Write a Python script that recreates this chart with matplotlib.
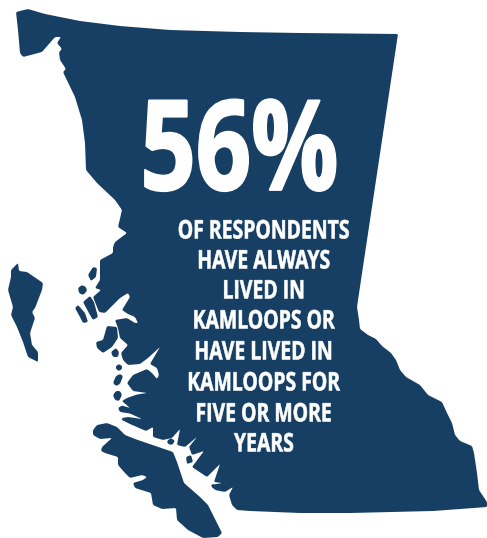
import numpy as np
import matplotlib
matplotlib.use("Agg")
import matplotlib.pyplot as plt
from matplotlib.patches import Polygon
from matplotlib.patheffects import AbstractPathEffect
from matplotlib.transforms import Affine2D

HEADLINE = "56%"
BODY_LINES = ["OF RESPONDENTS", "HAVE ALWAYS", "LIVED IN", "KAMLOOPS OR",
              "HAVE LIVED IN", "KAMLOOPS FOR", "FIVE OR MORE", "YEARS"]
BODY_CENTRES_X = [264, 264, 264, 264, 264, 264, 264, 264]
BODY_CENTRES_Y = [228, 258, 288, 318, 349, 380, 411, 441]
NAVY = "#163F63"

MAINLAND = [(16,12),(28,9),(45,14),(80,21),(120,26),(170,30),(240,32),(300,33),(398,34),
 (361,280),(357,307),(359,320),(360,329),(368,335),(376,339),(382,346),(391,353),(396,360),(400,370),
 (406,377),(420,385),(428,395),(442,402),(447,413),(452,423),(455,435),(460,441),(472,446),(474,453),
 (477,473),(479,490),(487,502),(487,507),(433,511),(350,513),(300,513),(250,511),(237,510),(232,505),
 (229,495),(233,487),(225,492),(215,490),(211,485),(222,483),(214,482),(220,464),(207,477),(192,467),
 (204,451),(192,455),(189,447),(197,437),(185,447),(177,445),(180,429),(172,438),(163,440),(153,437),
 (153,427),(146,431),(130,424),(122,420),(122,418),(128,417),(142,419),(130,413.5),(120,412),(118,408),
 (122,405.5),(130,408),(122,401),(127,398),(137,394.5),(147,393),(133,391),(127,383),(133,375),(147,369),(152,373),
 (157,379),(159,375),(157,368),(150,364),(160,347),(148,358),(140,364),(128,365),(123,360),(121,353),
 (128,345),(120,338),(118,328),(115,320),(127,318),(135,323),(138,323),(135,317),(128,314),(122,310),
 (130,297),(128,293),(120,298),(105,313),(99,312),(93,297),(101,290),(95,288),(100,280),(100,260),
 (113,253),(113,247),(115,242),(127,233),(118,227),(122,210),(115,200),(97,183),(86,170),(85,143),
 (82,120),(75,97),(63,72),(66,69),(60,60),(59,52),(62,49),(57,43),(61,37),(55,37),(42,52),(23,57),
 (20,53),(18,30)]
HAIDA_GWAII = [(11,270),(18,263),(19,271),(27,272),(43,283),(42,290),(35,308),(32,312),(35,318),(30,333),
 (32,345),(38,352),(38,362),(28,357),(23,342),(17,327),(11,315),(13,307),(8,290),(11,277)]
VANCOUVER_ISLAND = [(93,430),(97,425),(107,423),(117,427),(125,435),(135,439),(173,452),(177,462),(184,483),
 (200,497),(208,505),(217,523),(222,533),(218,537),(203,538),(188,530),(177,520),(176,508),(162,509),
 (153,505),(151,493),(135,488),(133,483),(143,480),(147,477),(142,475),(130,478),(125,473),(118,465),
 (118,457),(105,453),(101,451),(102,447),(112,438),(100,439),(93,435)]
SMALL_ISLANDS = [
 [(88,275),(93,267),(97,268),(96,277),(91,281)],
 [(78,288),(82,285),(86,287),(87,291),(83,295),(79,293)],
 [(83,302),(90,296),(94,302),(98,317),(93,320),(90,315)],
 [(75,308),(78,305),(85,313),(88,322),(83,323),(80,317)],
 [(96,342),(103,340),(107,326),(117,327),(118,338),(112,347),(103,353),(97,348)],
 [(111,352),(116,348),(119,352),(118,357),(113,357)],
 [(116,366),(119,364),(122,366),(122,369),(119,371),(116,369)],
 [(113,383),(116,376),(120,374),(123,376),(120,384),(116,386)],
 [(113,395),(116,391),(120,391),(122,395),(119,401),(115,400)],
 [(167,441),(171,438),(175,441),(172,445),(168,444)],
 [(186,457),(191,455),(193,462),(187,464)],
 [(211,485),(214,484),(216,487),(213,489)],
]

def smooth(points, cut=1.0):
    pts = np.array(points, float)
    out = []
    for i in range(len(pts)):
        a, b = pts[i], pts[(i + 1) % len(pts)]
        length = np.hypot(*(b - a))
        t = min(0.25, cut / max(length, 1e-6))
        out += [a + (b - a) * t, b - (b - a) * t]
    return np.array(out)

class Squeeze(AbstractPathEffect):
    """Reshape the glyphs of a real Text about its pixel centre, with a slight embolden."""
    def __init__(self, centre, scale_x, scale_y=1.0, bold=0.0):
        super().__init__()
        self.centre, self.scale_x, self.scale_y, self.bold = centre, scale_x, scale_y, bold
    def draw_path(self, renderer, gc, tpath, affine, rgbFace=None):
        cx, cy = self.centre
        squeezed = affine + Affine2D().translate(-cx, -cy).scale(self.scale_x, self.scale_y).translate(cx, cy)
        gc0 = renderer.new_gc()
        gc0.copy_properties(gc)
        if self.bold:
            gc0.set_linewidth(self.bold)
            gc0.set_foreground(rgbFace)
        renderer.draw_path(gc0, tpath, squeezed, rgbFace)
        gc0.restore()

fig = plt.figure(figsize=(4.87, 5.38), dpi=100)
ax = fig.add_axes([0, 0, 1, 1])
ax.set_xlim(0, 487)
ax.set_ylim(538, 0)
ax.axis("off")
for shape in [MAINLAND, HAIDA_GWAII, VANCOUVER_ISLAND] + SMALL_ISLANDS:
    ax.add_patch(Polygon(smooth(shape), closed=True, fc=NAVY, ec="none"))

FONT = "Open Sans"
ax.text(239.5, 142.5, HEADLINE, color="white", family=FONT, weight="bold", fontsize=78,
        ha="center", va="center_baseline",
        path_effects=[Squeeze((239.5, 538 - 142.5), 0.895, 1.155, 1.5)])
for line, x, y in zip(BODY_LINES, BODY_CENTRES_X, BODY_CENTRES_Y):
    ax.text(x, y, line, color="white", family=FONT, weight="bold", fontsize=18.5,
            ha="center", va="center_baseline",
            path_effects=[Squeeze((x, 538 - y), 0.755, 1.0, 0.4)])
fig.savefig("out.png", dpi=100)
